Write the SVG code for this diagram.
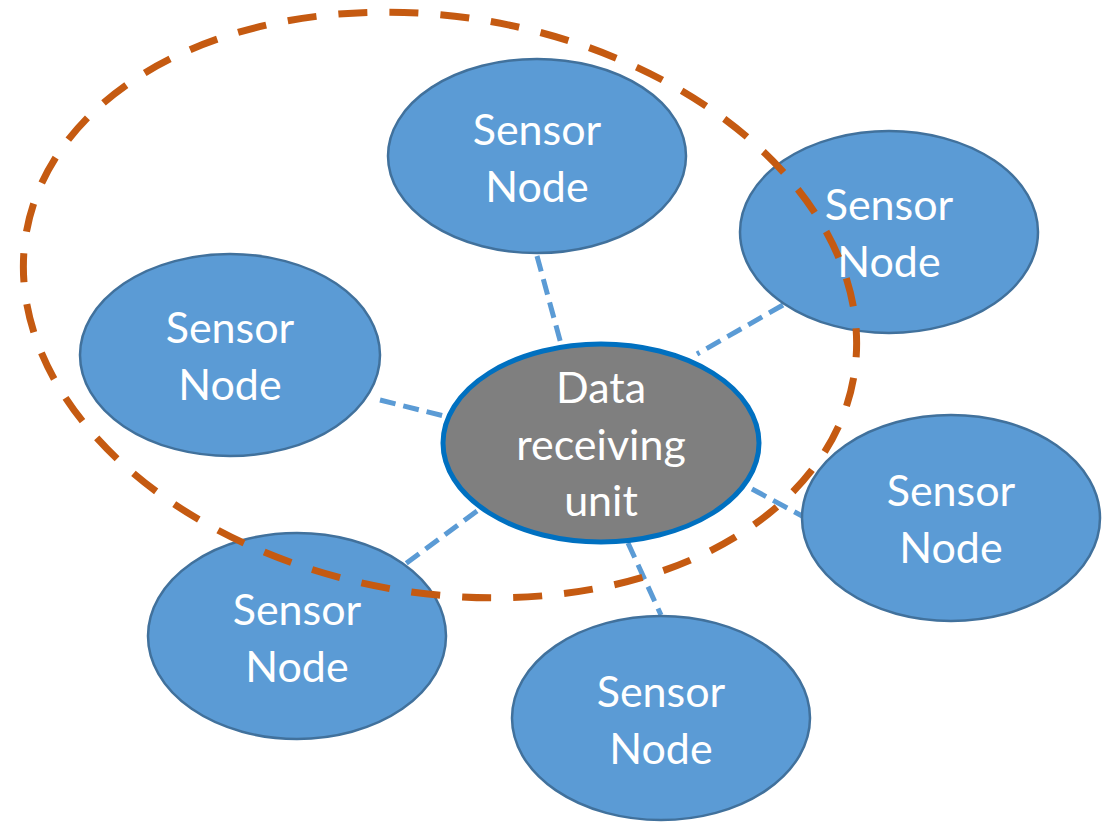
<svg xmlns="http://www.w3.org/2000/svg" width="1107" height="822" viewBox="0 0 1107 822">
  <style>
    .sensor { fill: #5B9BD5; stroke: #41719C; stroke-width: 2.5; }
    .hub { fill: #7F7F7F; stroke: #0070C0; stroke-width: 5; }
    .label { fill: #FFFFFF; font-family: Lato, "Open Sans", "Liberation Sans", sans-serif; font-size: 43px; text-anchor: middle; }
    .link { stroke: #5B9BD5; stroke-width: 5; stroke-dasharray: 16 8; fill: none; }
    .range { fill: none; stroke: #C55A11; stroke-width: 7; stroke-dasharray: 29 22; }
  </style>
  <rect width="1107" height="822" fill="#FFFFFF"/>

  <!-- links between the hub and each sensor -->
  <g id="connectors">
    <line class="link" x1="537" y1="256" x2="561" y2="344"/>
    <line class="link" x1="783" y1="305" x2="697" y2="354"/>
    <line class="link" x1="380" y1="400" x2="444" y2="416"/>
    <line class="link" x1="752" y1="489" x2="804" y2="517"/>
    <line class="link" x1="477" y1="511" x2="400" y2="568"/>
    <line class="link" x1="628" y1="543" x2="661" y2="615"/>
  </g>

  <g id="sensor-top">
    <ellipse class="sensor" cx="537" cy="156" rx="149" ry="97"/>
    <text class="label" x="537" y="145">Sensor</text>
    <text class="label" x="537" y="202">Node</text>
  </g>
  <g id="sensor-top-right">
    <ellipse class="sensor" cx="889" cy="232" rx="149" ry="101"/>
    <text class="label" x="889" y="220">Sensor</text>
    <text class="label" x="889" y="277">Node</text>
  </g>
  <g id="sensor-left">
    <ellipse class="sensor" cx="230" cy="355" rx="150" ry="101"/>
    <text class="label" x="230" y="343">Sensor</text>
    <text class="label" x="230" y="400">Node</text>
  </g>
  <g id="sensor-right">
    <ellipse class="sensor" cx="951" cy="518" rx="149" ry="103"/>
    <text class="label" x="951" y="506">Sensor</text>
    <text class="label" x="951" y="563">Node</text>
  </g>
  <g id="sensor-bottom-left">
    <ellipse class="sensor" cx="297" cy="636" rx="149" ry="103"/>
    <text class="label" x="297" y="625">Sensor</text>
    <text class="label" x="297" y="682">Node</text>
  </g>
  <g id="sensor-bottom">
    <ellipse class="sensor" cx="661" cy="718" rx="149" ry="102"/>
    <text class="label" x="661" y="707">Sensor</text>
    <text class="label" x="661" y="764">Node</text>
  </g>

  <g id="hub">
    <ellipse class="hub" cx="601" cy="443" rx="158" ry="99"/>
    <text class="label" x="601" y="403">Data</text>
    <text class="label" x="601" y="460">receiving</text>
    <text class="label" x="601" y="516">unit</text>
  </g>

  <!-- coverage boundary -->
  <g id="coverage">
    <ellipse class="range" cx="440" cy="305" rx="420" ry="288" transform="rotate(10 440 305)"/>
  </g>
</svg>
